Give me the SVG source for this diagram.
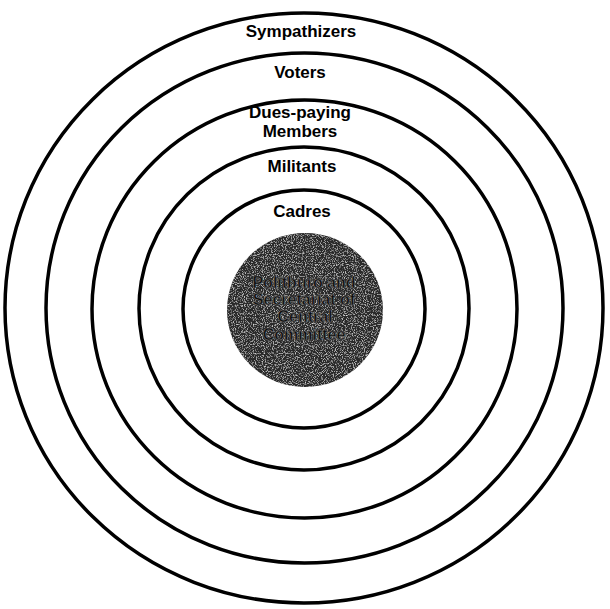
<svg xmlns="http://www.w3.org/2000/svg" width="610" height="609" viewBox="0 0 610 609">
<style>
.ring{fill:none;stroke:#000;stroke-width:3.5}
.lbl{font-family:"Liberation Sans",Arial,sans-serif;font-weight:bold;font-size:17px;fill:#000;text-anchor:middle}
.core{font-family:"Liberation Sans",Arial,sans-serif;font-weight:bold;font-size:16px;fill:#0a0a0a;stroke:#6a6a6a;stroke-width:0.7;text-anchor:middle}
</style>
<defs>
<filter id="grain" x="0" y="0" width="100%" height="100%">
<feTurbulence type="fractalNoise" baseFrequency="0.9" numOctaves="2" seed="3" result="n"/>
<feColorMatrix in="n" type="matrix" values="0 0 0 0 1  0 0 0 0 1  0 0 0 0 1  0 0 0 1.8 -0.9" result="speck"/>
<feComposite in="speck" in2="SourceGraphic" operator="in" result="s2"/>
<feMerge><feMergeNode in="SourceGraphic"/><feMergeNode in="s2"/></feMerge>
</filter>
</defs>
<rect width="610" height="609" fill="#fff"/>
<g id="rings">
<g id="sympathizers"><ellipse class="ring" cx="304" cy="308" rx="299" ry="295"/><text class="lbl" x="301" y="37">Sympathizers</text></g>
<g id="voters"><ellipse class="ring" cx="304.5" cy="308" rx="258.5" ry="255"/><text class="lbl" x="300" y="78">Voters</text></g>
<g id="dues-paying"><ellipse class="ring" cx="304.5" cy="309" rx="212.5" ry="209"/><text class="lbl" x="300" y="118">Dues-paying</text><text class="lbl" x="300" y="137">Members</text></g>
<g id="militants"><ellipse class="ring" cx="304" cy="308.5" rx="165" ry="161.5"/><text class="lbl" x="302" y="172">Militants</text></g>
<g id="cadres"><ellipse class="ring" cx="304" cy="309" rx="121" ry="119"/><text class="lbl" x="302" y="217">Cadres</text></g>
<g id="core">
<ellipse cx="305" cy="310" rx="78" ry="77" fill="#2c2c2c" filter="url(#grain)"/>
<text class="core" x="304" y="288">Politburo and</text>
<text class="core" x="304" y="305">Secretariat of</text>
<text class="core" x="305" y="322">Central</text>
<text class="core" x="304" y="340">Committee</text>
</g>
</g>
</svg>
